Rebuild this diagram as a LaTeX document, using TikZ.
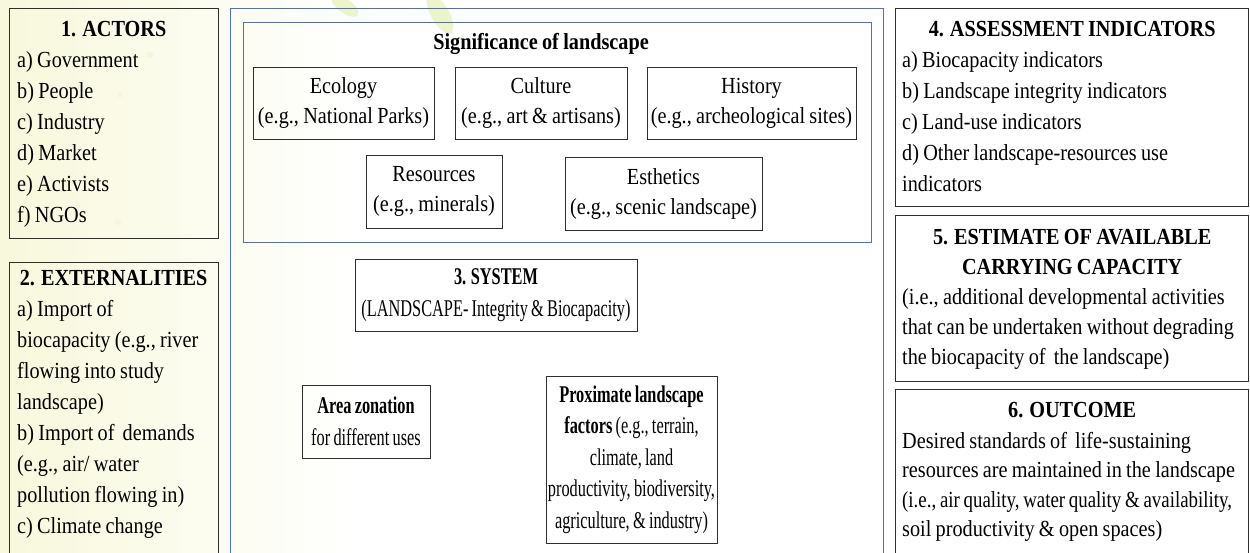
\documentclass[tikz,border=0pt]{standalone}
\usepackage{fontspec}
\setmainfont{Liberation Serif}[FakeStretch=0.88,WordSpace=0.85]
\newfontfamily\condfont{Liberation Serif}[FakeStretch=0.68,WordSpace=0.8]
\newfontfamily\tightfont{Liberation Serif}[FakeStretch=0.82,WordSpace=0.8]
\definecolor{frameblue}{HTML}{4A72B5}
\definecolor{edgegray}{HTML}{2E2E2E}
\definecolor{bgyellow}{HTML}{F8F8DC}
\definecolor{leafgreen}{HTML}{EDF4CC}
\begin{document}
\begin{tikzpicture}[x=1pt,y=-1pt,
  panel/.style={draw=edgegray, line width=1.1pt, anchor=north west, inner sep=0pt},
  bluepanel/.style={draw=frameblue, line width=1pt, anchor=north west, inner sep=0pt},
  itembox/.style={draw=edgegray, line width=1pt, align=center, inner sep=0pt,
    font=\fontsize{23}{30}\selectfont},
  lowbox/.style={draw=edgegray, line width=1pt, align=center, inner sep=0pt,
    font=\condfont\fontsize{24}{31.5}\selectfont},
  body/.style={anchor=base west, align=flush left, inner sep=0pt, text width=420pt,
    font=\fontsize{23}{31}\selectfont},
  heading/.style={inner sep=0pt, font=\bfseries\fontsize{23}{30}\selectfont}
]
\useasboundingbox (0,0) rectangle (1250,552);
% background
\fill[white] (0,0) rectangle (1250,552);
\shade[left color=bgyellow, right color=white] (0,0) rectangle (360,552);
\fill[leafgreen, rotate around={-35:(345,6)}] (345,6) ellipse (16 and 7);
\fill[leafgreen, rotate around={-60:(440,14)}] (440,14) ellipse (22 and 9);
\fill[leafgreen!70!white] (150,55) circle (3);
\fill[leafgreen!70!white] (120,95) circle (2.5);
\fill[leafgreen!70!white] (118,222) circle (3);

% left panels
\node[panel, minimum width=209pt, minimum height=230pt] (actors) at (9,8) {};
\node[body] (actorsT) at (17,36) {\makebox[193pt]{\bfseries 1. ACTORS}\\
a) Government\\ b) People\\ c) Industry\\ d) Market\\ e) Activists\\ f) NGOs};

\node[panel, minimum width=209pt, minimum height=320pt] (extern) at (9,262) {};
\node[body] (externT) at (17,285) {\makebox[193pt]{\bfseries 2. EXTERNALITIES}\\
a) Import of\\ biocapacity (e.g., river\\ flowing into study\\ landscape)\\
b) Import of\, demands\\ (e.g., air/ water\\ pollution flowing in)\\ c) Climate change};

% central frame
\node[bluepanel, minimum width=653pt, minimum height=600pt] (central) at (230,8) {};
\node[bluepanel, minimum width=628pt, minimum height=220pt] (signif) at (243,22) {};
\node[heading] (signifT) at (541,44) {Significance of landscape};

\node[itembox, minimum width=181pt, minimum height=72pt] (ecology) at (343.5,103)
  {Ecology\\(e.g., National Parks)};
\node[itembox, minimum width=172pt, minimum height=72pt] (culture) at (541,103)
  {Culture\\(e.g., art \& artisans)};
\node[itembox, minimum width=209pt, minimum height=72pt] (history) at (751.5,103)
  {History\\(e.g., archeological sites)};
\node[itembox, minimum width=136pt, minimum height=73pt] (resources) at (434,191.5)
  {Resources\\(e.g., minerals)};
\node[itembox, minimum width=197pt, minimum height=73pt] (esthetics) at (663.5,193.5)
  {Esthetics\\(e.g., scenic landscape)};

\node[lowbox, minimum width=282pt, minimum height=72pt] (system) at (496,295)
  {\textbf{3. SYSTEM}\\(LANDSCAPE- Integrity \& Biocapacity)};
\node[lowbox, minimum width=128pt, minimum height=73pt] (zonation) at (366,421.5)
  {\textbf{Area zonation}\\for different uses};
\node[lowbox, minimum width=171pt, minimum height=167pt] (proximate) at (631.5,459.5)
  {\textbf{Proximate landscape}\\\textbf{factors} (e.g., terrain,\\climate, land\\productivity, biodiversity,\\agriculture, \& industry)};

% right panels
\node[panel, minimum width=353pt, minimum height=198pt] (indic) at (895,8) {};
\node[body] (indicT) at (902,36) {\makebox[340pt]{\bfseries 4. ASSESSMENT INDICATORS}\\
a) Biocapacity indicators\\ b) Landscape integrity indicators\\ c) Land-use indicators\\
d) Other landscape-resources use\\ indicators};

\node[panel, minimum width=353pt, minimum height=166pt] (estim) at (895,215) {};
\node[body, font=\fontsize{23}{30}\selectfont] (estimT) at (902,244)
{\makebox[340pt]{\bfseries 5. ESTIMATE OF AVAILABLE}\\
\makebox[340pt]{\bfseries CARRYING CAPACITY}\\
(i.e., additional developmental activities\\
that can be undertaken without degrading\\
the biocapacity of\, the landscape)};

\node[panel, minimum width=353pt, minimum height=200pt] (outcome) at (895,389) {};
\node[body, font=\fontsize{23}{29.5}\selectfont] (outcomeT) at (902,417)
{\makebox[340pt]{\bfseries 6. OUTCOME}\\[1.5pt]
Desired standards of\, life-sustaining\\
resources are maintained in the landscape\\
{\tightfont (i.e., air quality, water quality \& availability,}\\
soil productivity \& open spaces)};
\end{tikzpicture}
\end{document}
